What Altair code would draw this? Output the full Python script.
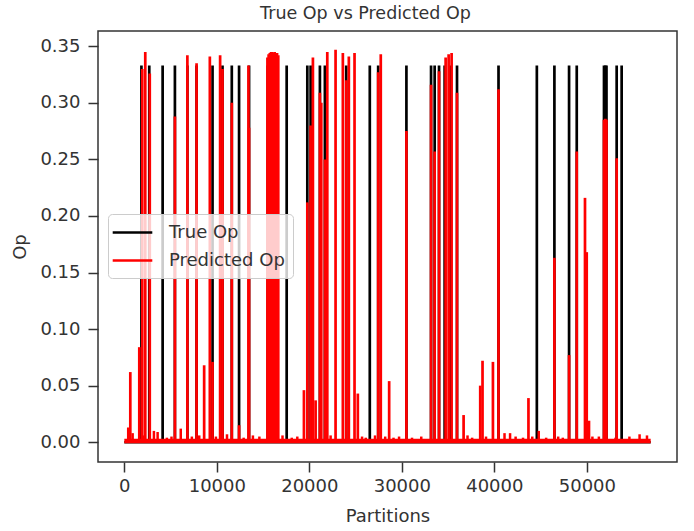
import altair as alt
import pandas as pd

FONT = "DejaVu Sans"

# True Op spikes (partition index, value)
true_x = [1850, 2697, 4142, 5469, 6817, 7810, 9536, 10614, 11618, 12405, 13484,
          15500, 16000, 16500, 17551, 19783, 20139, 21143, 21682, 23990, 26536,
          27442, 30495, 33159, 33548, 34022, 34627, 35166, 35964, 40451, 44594,
          46492, 48078, 48908, 51853, 52000, 52122, 53223, 53762]
true_y = [0.333, 0.333, 0.333, 0.333, 0.333, 0.333, 0.333, 0.333, 0.333, 0.333, 0.333,
          0.333, 0.333, 0.333, 0.333, 0.333, 0.333, 0.333, 0.333, 0.333, 0.333,
          0.333, 0.333, 0.333, 0.333, 0.333, 0.333, 0.333, 0.333, 0.333, 0.333,
          0.333, 0.333, 0.333, 0.333, 0.333, 0.333, 0.333, 0.333]

# Predicted Op spikes
pred_x = [431, 647, 1618, 1942, 2265, 2751, 5469, 6817, 7810, 8630, 9245, 9536,
          10356, 10614, 11618, 12405, 13420, 13484,
          15470, 15600, 15730, 15860, 15990, 16120, 16250, 16380, 16510, 16640,
          19417, 19783, 20139, 20387, 20679, 21143, 21293, 21682, 21941, 22836,
          23623, 23990, 24271, 24886, 25242, 27442, 27723, 28629, 30495, 33159,
          33548, 34022, 34734, 35058, 35381, 35964, 36676, 38474, 38722, 39847,
          40451, 43687, 46492, 48078, 48908, 49799, 49987, 50230, 51853, 52000,
          52122, 53223]
pred_y = [0.013, 0.062, 0.084, 0.330, 0.345, 0.326, 0.288, 0.342, 0.335, 0.068, 0.341, 0.071,
          0.342, 0.330, 0.300, 0.015, 0.333, 0.278,
          0.340, 0.343, 0.344, 0.345, 0.345, 0.344, 0.345, 0.343, 0.344, 0.342,
          0.046, 0.212, 0.280, 0.340, 0.037, 0.309, 0.300, 0.250, 0.345, 0.347,
          0.344, 0.320, 0.341, 0.344, 0.043, 0.327, 0.343, 0.054, 0.275, 0.316,
          0.257, 0.328, 0.340, 0.343, 0.344, 0.309, 0.024, 0.050, 0.072, 0.071,
          0.312, 0.039, 0.163, 0.077, 0.257, 0.216, 0.168, 0.019, 0.285, 0.286,
          0.285, 0.251]

# small residual noise of the predicted series near zero
noise_x = [900, 2100, 3200, 3600, 4600, 5100, 6100, 7300, 8100, 9900, 11100, 12900,
           13900, 14600, 17100, 18100, 18700, 22300, 25700, 26100, 27100, 28200,
           29100, 29700, 31100, 32100, 37100, 37600, 39100, 41100, 41700, 42300,
           43100, 44100, 44800, 45600, 46900, 47400, 50600, 51300, 53100, 54600,
           55700, 56500]
noise_y = [0.008, 0.006, 0.010, 0.009, 0.004, 0.005, 0.012, 0.005, 0.006, 0.005, 0.007, 0.004,
           0.006, 0.005, 0.006, 0.004, 0.005, 0.006, 0.005, 0.004, 0.006, 0.005,
           0.004, 0.005, 0.004, 0.005, 0.006, 0.004, 0.005, 0.008, 0.008, 0.005,
           0.004, 0.005, 0.010, 0.004, 0.005, 0.004, 0.005, 0.005, 0.004, 0.005,
           0.007, 0.006]

series_names = ["True Op", "Predicted Op"]
series_colors = ["#000000", "#ff0000"]
x_start, x_end = 0, 56900
x_ticks = [0, 10000, 20000, 30000, 40000, 50000]
y_ticks = [0.0, 0.05, 0.10, 0.15, 0.20, 0.25, 0.30, 0.35]

x_scale = alt.Scale(domain=[-2845, 59745], nice=False, zero=False)
y_scale = alt.Scale(domain=[-0.0175, 0.3635], nice=False, zero=False)
color_scale = alt.Scale(domain=series_names, range=series_colors)

legend = alt.Legend(
    title=None, orient="none", legendX=10, legendY=183,
    symbolType="M-2.2,0L2.2,0", symbolSize=324, symbolStrokeWidth=2.7,
    symbolOffset=6,
    labelFont=FONT, labelFontSize=18, labelColor="#333333", labelOffset=26,
    rowPadding=8, padding=8, fillColor="rgba(255,255,255,0.8)",
    strokeColor="#cccccc", cornerRadius=4,
)

x_enc = alt.X("x:Q", scale=x_scale, title="Partitions",
              axis=alt.Axis(values=x_ticks, format="d"))
y_enc = alt.Y("y:Q", scale=y_scale, title="Op",
              axis=alt.Axis(values=y_ticks, format=".2f"))
color_enc = alt.Color("series:N", scale=color_scale, legend=legend, sort=series_names)

true_df = pd.DataFrame({"x": true_x, "y": true_y, "series": "True Op"})
pred_df = pd.DataFrame({"x": pred_x, "y": pred_y, "series": "Predicted Op"})
noise_df = pd.DataFrame({"x": noise_x, "y": noise_y, "series": "Predicted Op"})
base_df = pd.DataFrame({"x": [x_start, x_start], "x2": [x_end, x_end],
                        "y": [0.0, 0.001], "series": series_names})

true_base = alt.Chart(base_df[base_df.series == "True Op"]).mark_rule(strokeWidth=2.5).encode(
    x=x_enc, x2="x2:Q", y=y_enc, color=color_enc)
true_spikes = alt.Chart(true_df).mark_rule(strokeWidth=2.7).encode(
    x=x_enc, y=y_enc, y2=alt.datum(0), color=color_enc)
pred_base = alt.Chart(base_df[base_df.series == "Predicted Op"]).mark_rule(strokeWidth=4.5).encode(
    x=x_enc, x2="x2:Q", y=y_enc, color=color_enc)
pred_noise = alt.Chart(noise_df).mark_rule(strokeWidth=2.5).encode(
    x=x_enc, y=y_enc, y2=alt.datum(0), color=color_enc)
pred_spikes = alt.Chart(pred_df).mark_rule(strokeWidth=2.7).encode(
    x=x_enc, y=y_enc, y2=alt.datum(0), color=color_enc)

chart = alt.layer(true_base, true_spikes, pred_base, pred_noise, pred_spikes).properties(
    width=579, height=431,
    title="True Op vs Predicted Op",
    padding={"left": 98, "top": 31, "right": 17, "bottom": 69},
    autosize="none",
).configure_axis(
    grid=False, domain=False, tickColor="#333333", tickSize=10, tickWidth=1.5,
    labelColor="#333333", labelFont=FONT, labelFontSize=18,
    titleFont=FONT, titleFontSize=18, titleColor="#333333", titleFontWeight="normal",
).configure_axisY(titlePadding=10, labelPadding=8).configure_axisX(
    titlePadding=12, labelPadding=5
).configure_view(
    stroke="#333333", strokeWidth=1.5
).configure_title(
    font=FONT, fontSize=17.5, fontWeight="normal", color="#333333", offset=9, dx=-22
)

chart.save("out.html", embed_options={"renderer": "svg", "actions": False})
